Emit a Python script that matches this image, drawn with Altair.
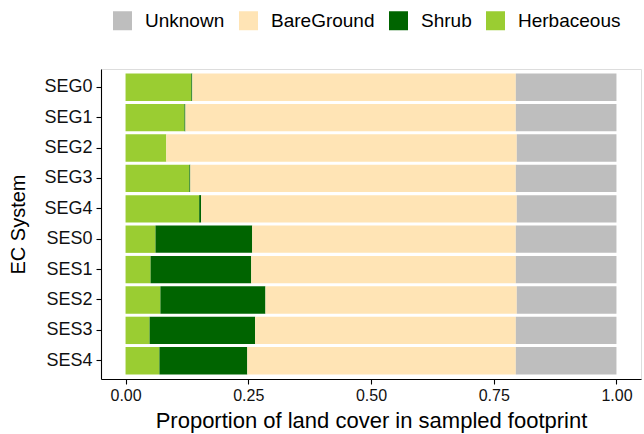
import altair as alt
import pandas as pd

# EC systems (top to bottom)
systems = ["SEG0", "SEG1", "SEG2", "SEG3", "SEG4",
           "SES0", "SES1", "SES2", "SES3", "SES4"]

# Proportion of each land cover class per system
herbaceous = [0.134, 0.120, 0.083, 0.130, 0.150, 0.061, 0.051, 0.071, 0.049, 0.069]
shrub      = [0.002, 0.002, 0.000, 0.002, 0.004, 0.197, 0.205, 0.214, 0.215, 0.179]
bareground = [0.659, 0.673, 0.714, 0.663, 0.643, 0.537, 0.539, 0.512, 0.531, 0.547]
unknown    = [0.205, 0.205, 0.203, 0.205, 0.203, 0.205, 0.205, 0.203, 0.205, 0.205]

classes = ["Unknown", "BareGround", "Shrub", "Herbaceous"]
colors = ["#BEBEBE", "#FFE4B5", "#006400", "#9ACD32"]
stack_rank = {"Herbaceous": 0, "Shrub": 1, "BareGround": 2, "Unknown": 3}

rows = []
for i, s in enumerate(systems):
    for cls, vals in (("Herbaceous", herbaceous), ("Shrub", shrub),
                      ("BareGround", bareground), ("Unknown", unknown)):
        rows.append({"system": s, "cover": cls, "proportion": vals[i],
                     "rank": stack_rank[cls]})
df = pd.DataFrame(rows)

FONT = "Liberation Sans"

chart = alt.Chart(df).mark_bar().encode(
    x=alt.X("proportion:Q", stack="zero",
            title="Proportion of land cover in sampled footprint",
            scale=alt.Scale(domain=[-0.05, 1.05], nice=False, zero=False),
            axis=alt.Axis(values=[0, 0.25, 0.5, 0.75, 1.0], format=".2f",
                          grid=False, domainColor="black", tickColor="black",
                          tickSize=5, labelPadding=3, labelFontSize=16,
                          labelColor="#111111", titleFontSize=22,
                          titleFontWeight="normal", titleColor="black",
                          titlePadding=7, labelFlush=False)),
    y=alt.Y("system:N", sort=systems, title="EC System",
            scale=alt.Scale(paddingInner=0.1, paddingOuter=0.15),
            axis=alt.Axis(grid=False, domainColor="black", tickColor="black",
                          tickSize=5, labelPadding=4, labelFontSize=18,
                          labelColor="#111111", titleFontSize=20,
                          titleFontWeight="normal", titleColor="black",
                          titlePadding=15)),
    color=alt.Color("cover:N",
                    scale=alt.Scale(domain=classes, range=colors),
                    legend=alt.Legend(title=None, orient="none",
                                      direction="horizontal",
                                      legendX=12, legendY=-58,
                                      symbolType="square", symbolSize=361,
                                      symbolStrokeWidth=0, symbolOpacity=1,
                                      labelFontSize=19, labelColor="black",
                                      labelOffset=13, columnPadding=14)),
    order=alt.Order("rank:Q", sort="ascending"),
).properties(
    width=540, height=310,
    padding={"left": 101, "top": 69, "right": 3, "bottom": 55},
    autosize=alt.AutoSizeParams(type="none"),
).configure_view(
    stroke=None
).configure(
    font=FONT
).configure_axis(
    domainWidth=1.1, tickWidth=1.1
)

chart.save("out.html", embed_options={"renderer": "svg", "actions": False})
